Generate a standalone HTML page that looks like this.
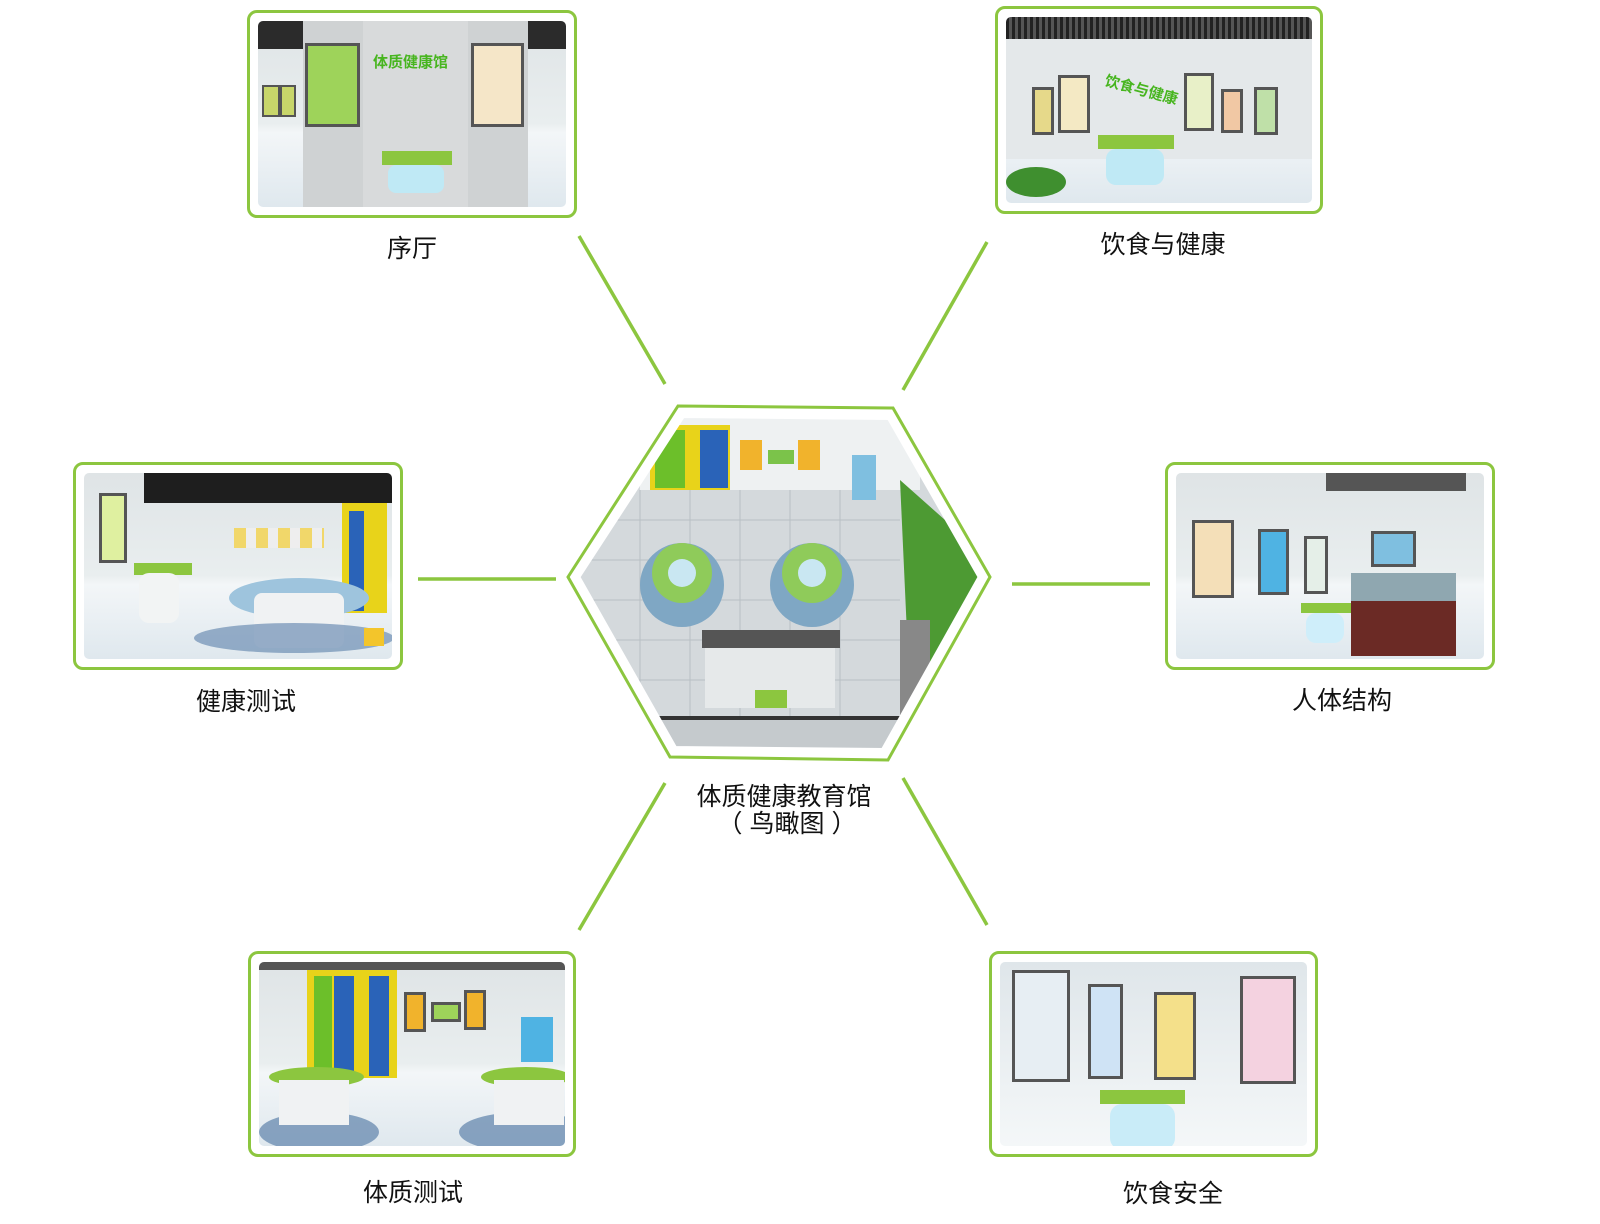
<!DOCTYPE html>
<html><head><meta charset="utf-8"><style>
html,body{margin:0;padding:0;background:#fff;}
body{width:1600px;height:1224px;position:relative;overflow:hidden;font-family:"Liberation Sans","Noto Sans CJK SC",sans-serif;}
.fr{position:absolute;border:3px solid #8cc63f;border-radius:10px;background:#fff;box-sizing:border-box;}
.im{position:absolute;left:8px;top:8px;right:8px;bottom:8px;border-radius:5px;overflow:hidden;background:linear-gradient(#dfe4e6 0%,#e9eeef 55%,#f3f6f8 60%,#dfe8ee 100%);}
.lb{position:absolute;font-size:25px;color:#111;transform:translateX(-50%);white-space:nowrap;line-height:1;}
.p{position:absolute;border:3px solid #555;box-sizing:border-box;}
.d{position:absolute;}
</style></head><body>

<svg width="1600" height="1224" style="position:absolute;left:0;top:0">
<g stroke="#8cc63f" stroke-width="3.5" fill="none">
<line x1="579" y1="236" x2="665" y2="384"/>
<line x1="987" y1="242" x2="903" y2="390"/>
<line x1="418" y1="579" x2="556" y2="579"/>
<line x1="1012" y1="584" x2="1150" y2="584"/>
<line x1="665" y1="783" x2="579" y2="930"/>
<line x1="903" y1="778" x2="987" y2="925"/>
</g>
<defs><clipPath id="hx"><polygon points="682,414 890,416 982,577 884,752 674,750 576,577"/></clipPath></defs>
<g clip-path="url(#hx)">
<rect x="560" y="400" width="440" height="360" fill="#d4d9dc"/>
<rect x="640" y="410" width="280" height="80" fill="#eef1f2"/>
<rect x="640" y="410" width="280" height="8" fill="#444"/>
<rect x="650" y="425" width="80" height="65" fill="#e8d31a"/>
<rect x="655" y="430" width="30" height="58" fill="#6cbf2a"/>
<rect x="700" y="430" width="28" height="58" fill="#2a63b8"/>
<rect x="740" y="440" width="22" height="30" fill="#f1b32c"/>
<rect x="768" y="450" width="26" height="14" fill="#7bc34a"/>
<rect x="798" y="440" width="22" height="30" fill="#f1b32c"/>
<rect x="852" y="455" width="24" height="45" fill="#7fbfe0"/>
<polygon points="900,480 990,560 990,700 910,700" fill="#4d9a33"/>
<g stroke="#b8bfc4" stroke-width="1">
<line x1="560" y1="520" x2="900" y2="520"/><line x1="560" y1="560" x2="900" y2="560"/><line x1="560" y1="600" x2="900" y2="600"/><line x1="560" y1="640" x2="900" y2="640"/><line x1="560" y1="680" x2="900" y2="680"/>
<line x1="640" y1="490" x2="640" y2="720"/><line x1="690" y1="490" x2="690" y2="720"/><line x1="740" y1="490" x2="740" y2="720"/><line x1="790" y1="490" x2="790" y2="720"/><line x1="840" y1="490" x2="840" y2="720"/>
</g>
<circle cx="682" cy="585" r="42" fill="#7fa7c4"/>
<circle cx="682" cy="573" r="30" fill="#8fcb5a"/>
<circle cx="682" cy="573" r="14" fill="#c9e7f2"/>
<circle cx="812" cy="585" r="42" fill="#7fa7c4"/>
<circle cx="812" cy="573" r="30" fill="#8fcb5a"/>
<circle cx="812" cy="573" r="14" fill="#c9e7f2"/>
<rect x="702" y="630" width="138" height="18" fill="#555"/>
<rect x="705" y="648" width="130" height="60" fill="#e6e9ea"/>
<rect x="755" y="690" width="32" height="18" fill="#8cc63f"/>
<rect x="560" y="718" width="440" height="45" fill="#c5cacd"/>
<rect x="560" y="716" width="440" height="4" fill="#333"/>
<rect x="900" y="620" width="30" height="100" fill="#888"/>
</g>
<polygon points="682,414 890,416 982,577 884,752 674,750 576,577" fill="none" stroke="#fff" stroke-width="8"/>
<polygon points="678,406 893,408 990,577 888,760 670,757 568,577" fill="none" stroke="#8cc63f" stroke-width="3"/>
</svg>

<!-- 序厅 -->
<div class="fr" style="left:247px;top:10px;width:330px;height:208px"><div class="im">
<div class="d" style="left:0;top:0;right:0;height:28px;background:#2b2b2b"></div>
<div class="d" style="left:45px;top:0;width:225px;height:190px;background:#cfd2d3"></div>
<div class="d" style="left:105px;top:0;width:105px;height:190px;background:#d8dadb"></div>
<div class="p" style="left:47px;top:22px;width:55px;height:84px;background:#9ed35a"></div>
<div class="p" style="left:213px;top:22px;width:53px;height:84px;background:#f5e6c8"></div>
<div class="d" style="left:115px;top:30px;font-size:15px;font-weight:bold;color:#47b51f">体质健康馆</div>
<div class="d" style="left:124px;top:130px;width:70px;height:14px;background:#8cc63f"></div>
<div class="d" style="left:130px;top:144px;width:56px;height:28px;background:#bfe9f5;border-radius:8px"></div>
<div class="d" style="left:4px;top:64px;width:14px;height:28px;background:#c8d66a;border:2px solid #555"></div>
<div class="d" style="left:22px;top:64px;width:12px;height:28px;background:#c8d66a;border:2px solid #555"></div>
</div></div>
<div class="lb" style="left:412px;top:237px">序厅</div>

<!-- 饮食与健康 -->
<div class="fr" style="left:995px;top:6px;width:328px;height:208px"><div class="im">
<div class="d" style="left:0;top:0;right:0;height:22px;background:repeating-linear-gradient(90deg,#222 0 3px,#555 3px 6px)"></div>
<div class="d" style="left:0;top:22px;right:0;height:120px;background:#e4e8ea"></div>
<div class="p" style="left:52px;top:58px;width:32px;height:58px;background:#f4e9c4"></div>
<div class="p" style="left:178px;top:56px;width:30px;height:58px;background:#e8f0c8"></div>
<div class="p" style="left:26px;top:70px;width:22px;height:48px;background:#e6d98a"></div>
<div class="p" style="left:248px;top:70px;width:24px;height:48px;background:#bfe0a8"></div>
<div class="p" style="left:215px;top:72px;width:22px;height:44px;background:#f1c8a4"></div>
<div class="d" style="left:98px;top:62px;font-size:15px;font-weight:bold;color:#47b51f;transform:rotate(15deg)">饮食与健康</div>
<div class="d" style="left:92px;top:118px;width:76px;height:14px;background:#8cc63f"></div>
<div class="d" style="left:100px;top:132px;width:58px;height:36px;background:#bfe9f5;border-radius:10px"></div>
<div class="d" style="left:0;top:150px;width:60px;height:30px;background:#3f8f2f;border-radius:50%"></div>
</div></div>
<div class="lb" style="left:1163px;top:233px">饮食与健康</div>

<!-- 健康测试 -->
<div class="fr" style="left:73px;top:462px;width:330px;height:208px"><div class="im">
<div class="d" style="left:60px;top:0;right:0;height:30px;background:#1e1e1e"></div>
<div class="p" style="left:15px;top:20px;width:28px;height:70px;background:#dff0a0"></div>
<div class="d" style="left:258px;top:30px;width:45px;height:110px;background:#e8d31a"></div>
<div class="d" style="left:265px;top:38px;width:15px;height:100px;background:#2a63b8"></div>
<div class="d" style="left:150px;top:55px;width:90px;height:20px;background:repeating-linear-gradient(90deg,#f1d76a 0 12px,#eee 12px 22px)"></div>
<div class="d" style="left:50px;top:90px;width:58px;height:12px;background:#8cc63f"></div>
<div class="d" style="left:55px;top:100px;width:40px;height:50px;background:#f2f4f4;border-radius:10px"></div>
<div class="d" style="left:145px;top:105px;width:140px;height:40px;background:#9ec4dd;border-radius:50%"></div>
<div class="d" style="left:170px;top:120px;width:90px;height:55px;background:#f0f2f3;border-radius:8px"></div>
<div class="d" style="left:110px;top:150px;width:200px;height:30px;background:#6e8fb3;border-radius:50%;opacity:.7"></div>
<div class="d" style="left:280px;top:155px;width:20px;height:18px;background:#f3c52b"></div>
</div></div>
<div class="lb" style="left:246px;top:690px">健康测试</div>

<!-- 人体结构 -->
<div class="fr" style="left:1165px;top:462px;width:330px;height:208px"><div class="im">
<div class="d" style="left:150px;top:0;width:140px;height:18px;background:#555"></div>
<div class="p" style="left:16px;top:47px;width:42px;height:78px;background:#f4dfb8"></div>
<div class="p" style="left:82px;top:56px;width:31px;height:66px;background:#4fb3e3"></div>
<div class="p" style="left:128px;top:63px;width:24px;height:58px;background:#e5efe8"></div>
<div class="p" style="left:195px;top:58px;width:45px;height:36px;background:#7fbfe0"></div>
<div class="d" style="left:175px;top:100px;width:105px;height:28px;background:#8fa7b0"></div>
<div class="d" style="left:175px;top:128px;width:105px;height:55px;background:#6b2a25"></div>
<div class="d" style="left:125px;top:130px;width:50px;height:10px;background:#8cc63f"></div>
<div class="d" style="left:130px;top:140px;width:38px;height:30px;background:#cfeefa;border-radius:10px"></div>
</div></div>
<div class="lb" style="left:1342px;top:689px">人体结构</div>

<!-- 体质测试 -->
<div class="fr" style="left:248px;top:951px;width:328px;height:206px"><div class="im">
<div class="d" style="left:0;top:0;right:0;height:8px;background:#555"></div>
<div class="d" style="left:48px;top:8px;width:90px;height:108px;background:#e8d31a"></div>
<div class="d" style="left:55px;top:14px;width:18px;height:100px;background:#6cbf2a"></div>
<div class="d" style="left:75px;top:14px;width:20px;height:100px;background:#2a63b8"></div>
<div class="d" style="left:110px;top:14px;width:20px;height:100px;background:#2a63b8"></div>
<div class="p" style="left:145px;top:30px;width:22px;height:40px;background:#f1b32c"></div>
<div class="p" style="left:172px;top:40px;width:30px;height:20px;background:#9ed35a"></div>
<div class="p" style="left:205px;top:28px;width:22px;height:40px;background:#f1b32c"></div>
<div class="d" style="left:262px;top:55px;width:32px;height:45px;background:#4fb3e3"></div>
<div class="d" style="left:0;top:150px;width:120px;height:40px;background:#6e8fb3;border-radius:50%;opacity:.8"></div>
<div class="d" style="left:200px;top:150px;width:130px;height:40px;background:#6e8fb3;border-radius:50%;opacity:.8"></div>
<div class="d" style="left:10px;top:105px;width:95px;height:20px;background:#8cc63f;border-radius:50%"></div>
<div class="d" style="left:20px;top:118px;width:70px;height:45px;background:#f0f2f3"></div>
<div class="d" style="left:222px;top:105px;width:90px;height:20px;background:#8cc63f;border-radius:50%"></div>
<div class="d" style="left:235px;top:118px;width:70px;height:45px;background:#f0f2f3"></div>
</div></div>
<div class="lb" style="left:413px;top:1181px">体质测试</div>

<!-- 饮食安全 -->
<div class="fr" style="left:989px;top:951px;width:329px;height:206px"><div class="im" style="background:linear-gradient(#dfe6ea,#eef2f4 70%,#f4f7f8)">
<div class="p" style="left:12px;top:8px;width:58px;height:112px;background:#e7eef3"></div>
<div class="p" style="left:88px;top:22px;width:35px;height:95px;background:#cfe3f5"></div>
<div class="p" style="left:154px;top:30px;width:42px;height:88px;background:#f4e08a"></div>
<div class="p" style="left:240px;top:14px;width:56px;height:108px;background:#f4d2e0"></div>
<div class="d" style="left:100px;top:128px;width:85px;height:14px;background:#8cc63f"></div>
<div class="d" style="left:110px;top:142px;width:65px;height:46px;background:#c9ecf8;border-radius:12px"></div>
</div></div>
<div class="lb" style="left:1173px;top:1182px">饮食安全</div>

<div class="lb" style="left:784px;top:785px">体质健康教育馆</div>
<div class="lb" style="left:787px;top:812px">（ 鸟瞰图 ）</div>
</body></html>
